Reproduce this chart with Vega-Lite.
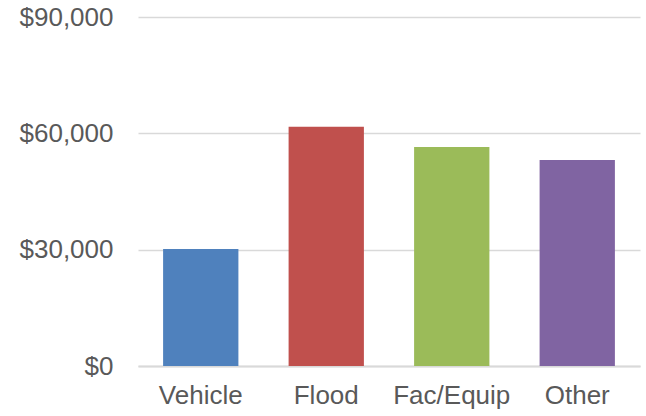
{
  "$schema": "https://vega.github.io/schema/vega-lite/v6.json",
  "width": 502,
  "height": 349,
  "autosize": {"type": "none"},
  "padding": {"left": 138, "top": 17, "right": 6, "bottom": 50},
  "background": "white",
  "data": {"values": [
    {"category": "Vehicle", "amount": 30200},
    {"category": "Flood", "amount": 61700},
    {"category": "Fac/Equip", "amount": 56500},
    {"category": "Other", "amount": 53100}
  ]},
  "mark": {"type": "bar"},
  "encoding": {
    "x": {
      "field": "category", "type": "nominal", "sort": null,
      "scale": {"paddingInner": 0.4, "paddingOuter": 0.2},
      "axis": {"title": null, "labelAngle": 0, "labelFont": "Liberation Sans", "labelFontSize": 26, "labelColor": "#595959", "ticks": false, "domainColor": "#D9D9D9", "domainWidth": 2, "labelPadding": 16, "grid": false}
    },
    "y": {
      "field": "amount", "type": "quantitative",
      "scale": {"domain": [0, 90000], "nice": false},
      "axis": {"title": null, "values": [0, 30000, 60000, 90000], "format": "$,.0f", "labelFont": "Liberation Sans", "labelFontSize": 26, "labelColor": "#595959", "ticks": false, "domain": false, "gridColor": "#D9D9D9", "gridWidth": 1.5, "labelPadding": 25}
    },
    "color": {
      "field": "category", "type": "nominal", "sort": null, "legend": null,
      "scale": {"domain": ["Vehicle", "Flood", "Fac/Equip", "Other"], "range": ["#4F81BD", "#C0504D", "#9BBB59", "#8064A2"]}
    }
  },
  "config": {"view": {"stroke": null}}
}
